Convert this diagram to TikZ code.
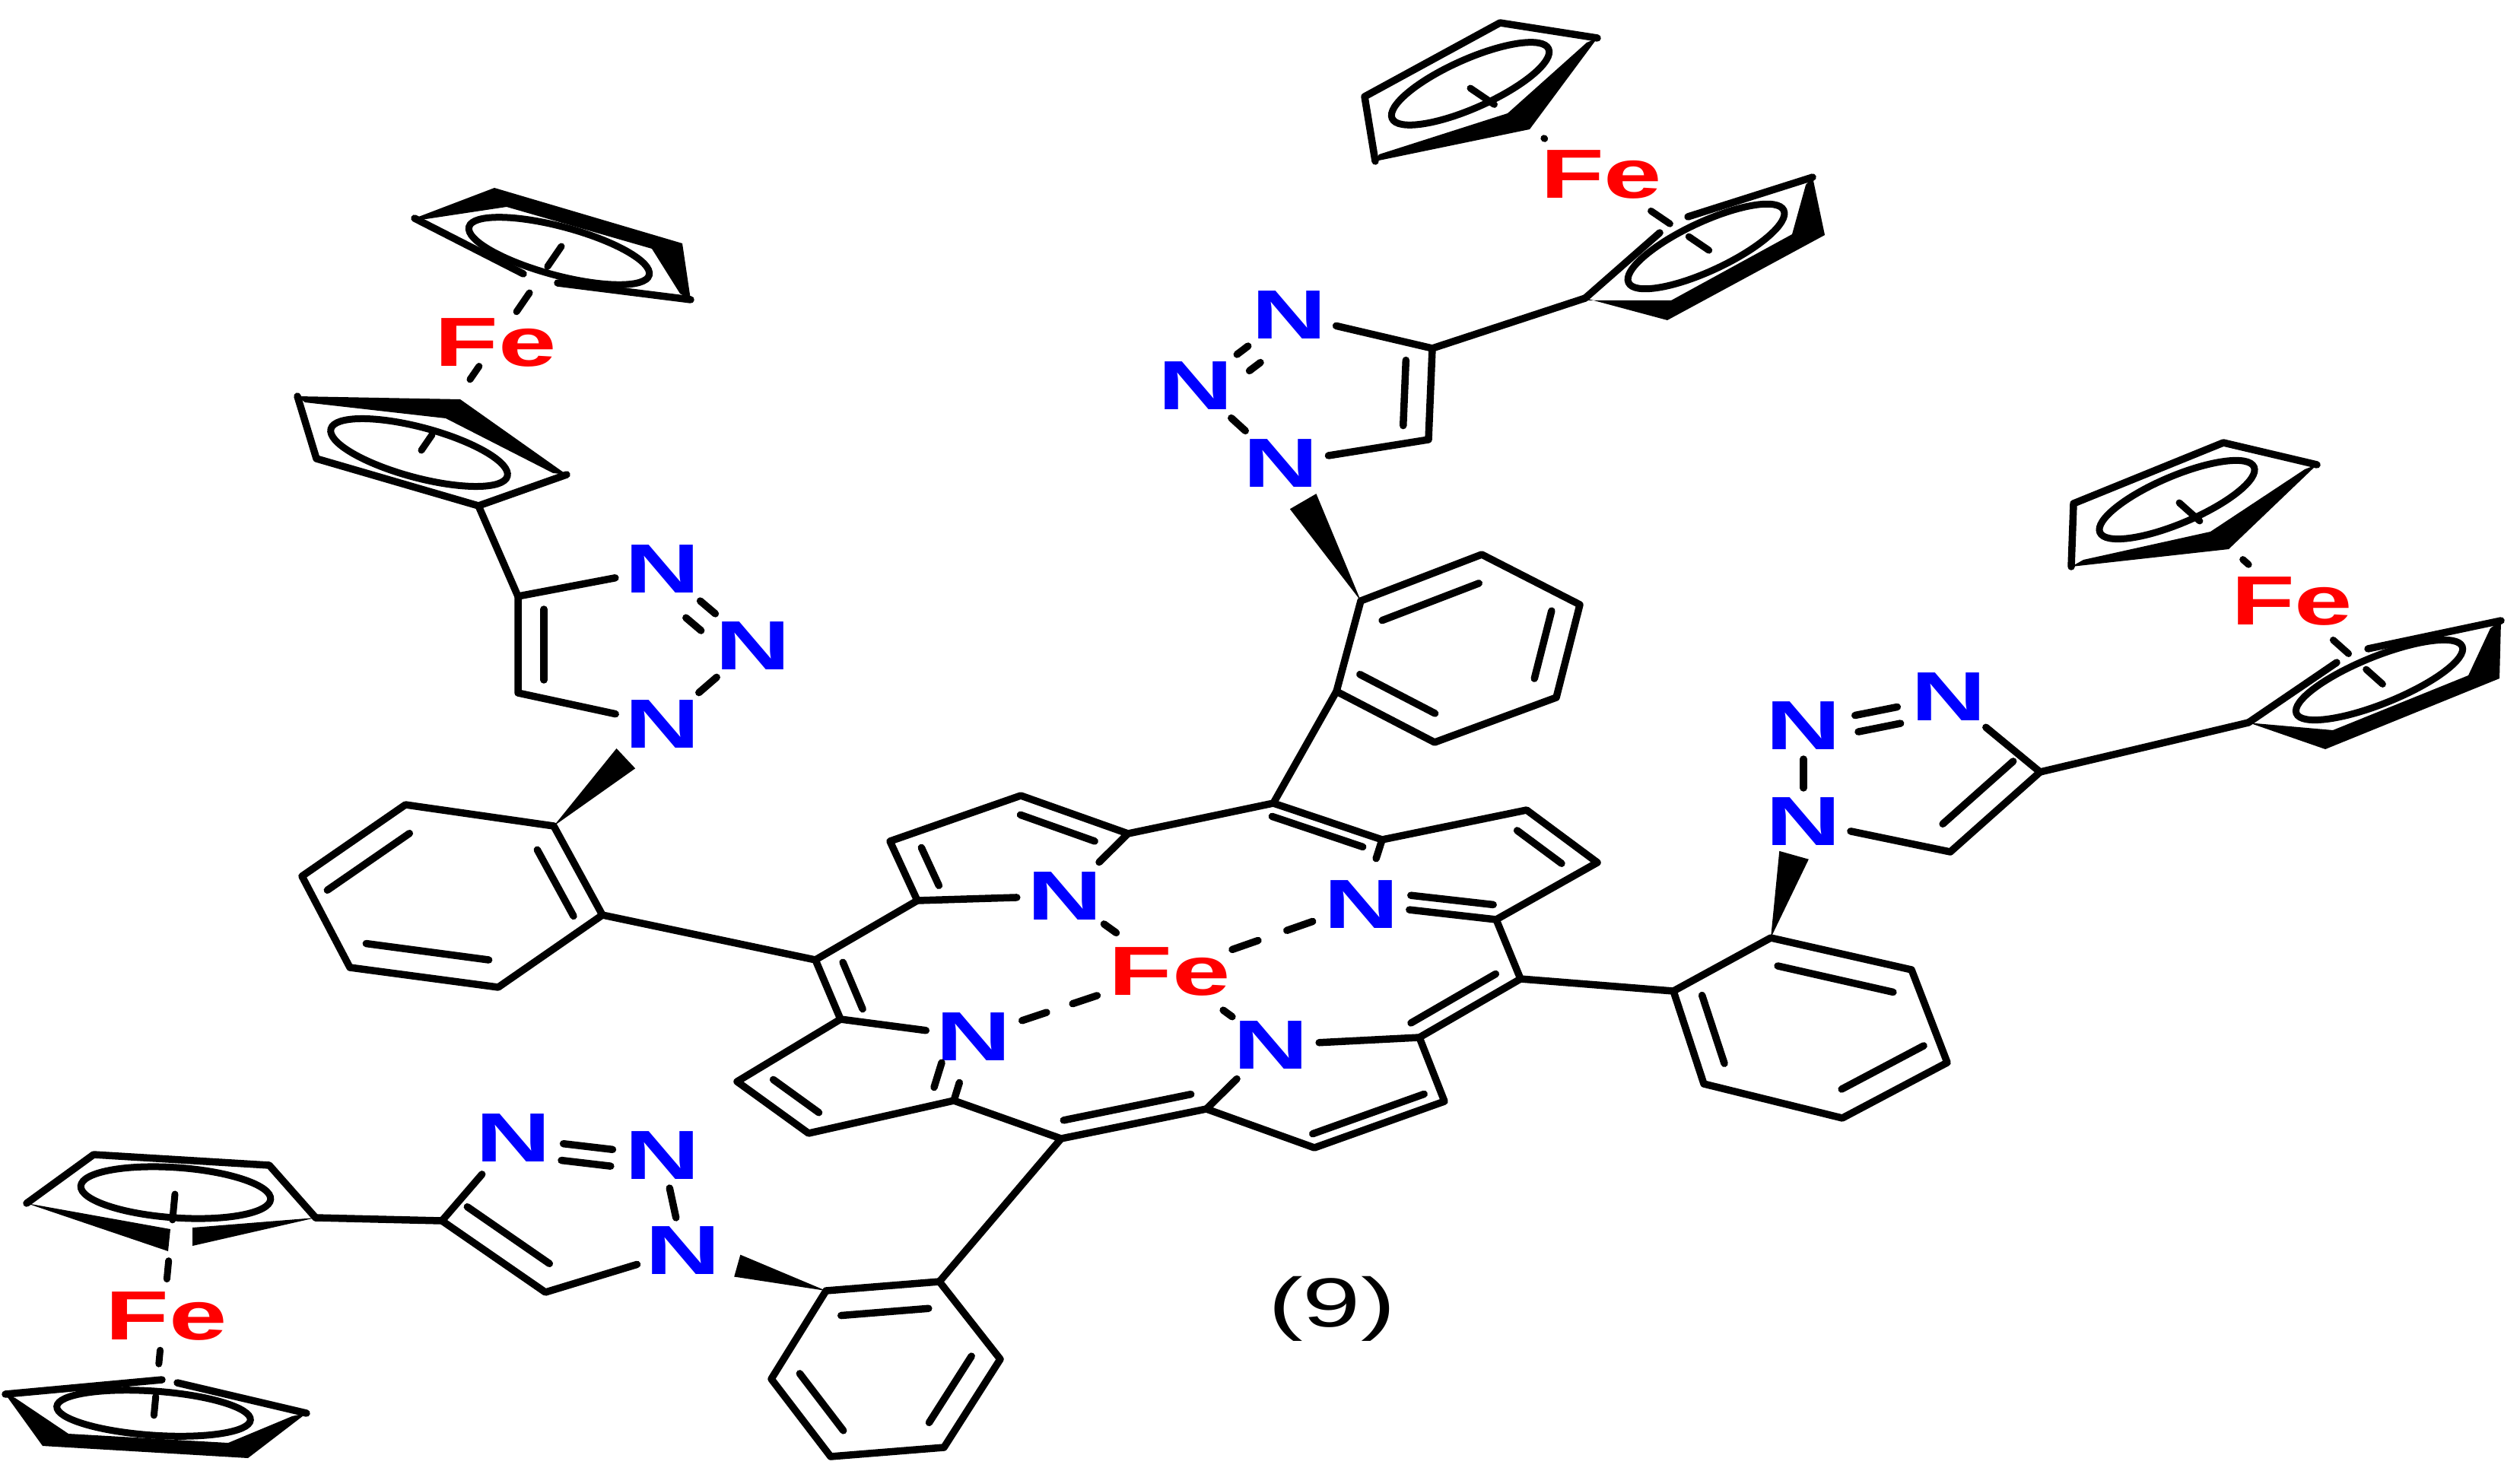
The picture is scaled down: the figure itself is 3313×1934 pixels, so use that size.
\documentclass[tikz,border=0pt]{standalone}
\usepackage{fontspec}
\usetikzlibrary{shapes.geometric,calc}
\newfontfamily\atomfont[FakeStretch=1.5]{Liberation Sans}
\definecolor{atomred}{RGB}{255,0,0}
\definecolor{atomblue}{RGB}{0,0,255}
% parallel stroke beside a bond: from, to, cut at from, cut at to, offset to the left
\newcommand{\offbond}[5]{\draw[bond] ($(#1)!#3!(#2)!#5!90:(#2)$) -- ($(#2)!#4!(#1)!#5!-90:(#1)$);}
\newcommand{\innerbond}[2]{\offbond{#1}{#2}{1.7mm}{1.7mm}{3.4mm}}
% solid wedge: tip, nitrogen, gap before the nitrogen, half width
\newcommand{\wedgebond}[4]{\fill (#1) -- ($(#2)!#3!(#1)!#4!90:(#1)$) -- ($(#2)!#3!(#1)!#4!-90:(#1)$) -- cycle;}
\begin{document}
\begin{tikzpicture}[x=0.01cm,y=-0.01cm]
      \tikzstyle{bond}=[line width=0.95mm,line cap=round,line join=round]
      \tikzstyle{gapbond}=[bond,shorten <=4.4mm,shorten >=4.4mm]
      \tikzstyle{hapto}=[line width=0.9mm,line cap=round]
      \tikzstyle{cpring}=[ellipse,draw,line width=0.9mm,inner sep=0pt]
      \tikzstyle{atomn}=[circle,inner sep=0pt,minimum size=1.25cm,text=atomblue,font=\atomfont\bfseries\fontsize{26}{26}\selectfont]
      \tikzstyle{atomfe}=[circle,inner sep=0pt,text=atomred,font=\atomfont\bfseries\fontsize{26}{26}\selectfont]
      \useasboundingbox (0,0) rectangle (3313,1934);

      % porphyrin
      \foreach \n/\x/\y in {a1/1206/1184,a2/1170/1106,a3/1342/1046,a4/1483/1096,m1/1674/1056,
        b1/1817/1104,b2/2007/1065,b3/2100/1134,b4/1967/1209,m2/1999/1287,
        c1/1866/1364,c2/1899/1448,c3/1728/1509,c4/1586/1458,m3/1395/1497,
        d1/1254/1447,d2/1063/1490,d3/969/1422,d4/1105/1340,m4/1072/1262}
        \coordinate (\n) at (\x,\y);
      \node[atomfe] (fe) at (1538,1277) {Fe};
      \node[atomn] (na) at (1400,1178) {N};
      \node[atomn] (nb) at (1790,1189) {N};
      \node[atomn] (nc) at (1671,1374) {N};
      \node[atomn] (nd) at (1280,1363) {N};
      \draw[bond] (a1) -- (a2) -- (a3) -- (a4) -- (m1) -- (b1) -- (b2) -- (b3) -- (b4) -- (m2)
        -- (c1) -- (c2) -- (c3) -- (c4) -- (m3) -- (d1) -- (d2) -- (d3) -- (d4) -- (m4) -- cycle;
      \draw[bond] (a1) -- (na);
      \draw[bond] (a4) -- (na);
      \draw[bond] (b1) -- (nb);
      \draw[bond] (b4) -- (nb);
      \draw[bond] (c1) -- (nc);
      \draw[bond] (c4) -- (nc);
      \draw[bond] (d4) -- (nd);
      \draw[bond] (d1) -- (nd);
      \offbond{a2}{a1}{2.5mm}{0.6mm}{3.4mm}
      \offbond{a4}{a3}{3.8mm}{0.8mm}{2.4mm}
      \offbond{b1}{m1}{2.1mm}{0.4mm}{1.7mm}
      \offbond{b3}{b2}{3.7mm}{0.6mm}{2.9mm}
      \offbond{nb}{b4}{6.3mm}{0.6mm}{1.9mm}
      \offbond{c1}{m2}{0mm}{2.5mm}{2.2mm}
      \offbond{c3}{c2}{0.4mm}{2.2mm}{1.8mm}
      \offbond{m3}{c4}{0.8mm}{1.6mm}{2.3mm}
      \offbond{d1}{nd}{0.9mm}{4.5mm}{3mm}
      \offbond{d3}{d2}{3.7mm}{0.5mm}{3mm}
      \offbond{m4}{d4}{1.7mm}{0.1mm}{3.2mm}
      \draw[bond,dash pattern=on 2.4mm off 9mm] (fe) -- (na);
      \draw[bond,dash pattern=on 3.6mm off 4mm on 3.6mm off 9mm] (fe) -- (nb);
      \draw[bond,dash pattern=on 2.4mm off 9mm] (fe) -- (nc);
      \draw[bond,shorten <=1.4mm,dash pattern=on 3.4mm off 3.6mm on 3.4mm off 9mm] (fe) -- (nd);

      % phenyl rings
      \foreach \n/\x/\y in {pa1/728/1086,pa2/792/1203,pa3/655/1298,pa4/460/1272,pa5/397/1152,pa6/533/1058,
        pb1/1789/790,pb2/1948/729,pb3/2077/795,pb4/2046/917,pb5/1886/976,pb6/1757/909,
        pc1/2328/1233,pc2/2513/1275,pc3/2560/1397,pc4/2422/1470,pc5/2240/1425,pc6/2200/1303,
        pd1/1086/1697,pd2/1235/1685,pd3/1315/1787,pd4/1241/1903,pd5/1092/1915,pd6/1014/1813}
        \coordinate (\n) at (\x,\y);
      \foreach \p in {pa,pb,pc,pd} {
        \draw[bond] (\p1) -- (\p2) -- (\p3) -- (\p4) -- (\p5) -- (\p6) -- cycle;
        \innerbond{\p2}{\p1}
        \innerbond{\p4}{\p3}
        \innerbond{\p6}{\p5}
      }
      \draw[bond] (pa2) -- (m4);
      \draw[bond] (pb6) -- (m1);
      \draw[bond] (pc6) -- (m2);
      \draw[bond] (pd2) -- (m3);

      % triazole, upper left
      \coordinate (ta4) at (681,784);
      \coordinate (ta5) at (681,911);
      \node[atomn] (ta3) at (871,748) {N};
      \node[atomn] (ta2) at (990,849) {N};
      \node[atomn] (ta1) at (871,952) {N};
      \draw[bond] (ta3) -- (ta4) -- (ta5) -- (ta1);
      \innerbond{ta4}{ta5}
      \offbond{ta3}{ta2}{6.5mm}{6.5mm}{-2.9mm}
      \offbond{ta3}{ta2}{6.5mm}{6.5mm}{0mm}
      \draw[bond] (ta2) -- (ta1);
      \wedgebond{pa1}{ta1}{6.6mm}{1.8mm}

      % triazole, top
      \coordinate (tb4) at (1883,458);
      \coordinate (tb5) at (1878,578);
      \node[atomn] (tb3) at (1695,414) {N};
      \node[atomn] (tb2) at (1572,507) {N};
      \node[atomn] (tb1) at (1684,609) {N};
      \draw[bond] (tb3) -- (tb4) -- (tb5) -- (tb1);
      \innerbond{tb5}{tb4}
      \offbond{tb2}{tb3}{6.8mm}{6.8mm}{0mm}
      \offbond{tb2}{tb3}{6.8mm}{6.8mm}{-2.7mm}
      \draw[bond] (tb2) -- (tb1);
      \wedgebond{pb1}{tb1}{5.8mm}{2mm}

      % triazole, right
      \coordinate (tc4) at (2682,1015);
      \coordinate (tc5) at (2564,1120);
      \node[atomn] (tc3) at (2562,916) {N};
      \node[atomn] (tc2) at (2371,954) {N};
      \node[atomn] (tc1) at (2371,1080) {N};
      \draw[bond] (tc3) -- (tc4) -- (tc5) -- (tc1);
      \innerbond{tc5}{tc4}
      \offbond{tc2}{tc3}{6.9mm}{6.9mm}{0mm}
      \offbond{tc2}{tc3}{6.9mm}{6.9mm}{-2.2mm}
      \draw[gapbond] (tc2.center) -- (tc1.center);
      \wedgebond{pc1}{tc1}{4.6mm}{2mm}

      % triazole, bottom
      \coordinate (td4) at (581,1605);
      \coordinate (td5) at (717,1699);
      \node[atomn] (td3) at (675,1496) {N};
      \node[atomn] (td2) at (871,1519) {N};
      \node[atomn] (td1) at (898,1644) {N};
      \draw[bond] (td3) -- (td4) -- (td5) -- (td1);
      \innerbond{td4}{td5}
      \offbond{td3}{td2}{6.6mm}{6.6mm}{0mm}
      \offbond{td3}{td2}{6.6mm}{6.6mm}{-2.2mm}
      \draw[gapbond] (td2.center) -- (td1.center);
      \wedgebond{pd1}{td1}{7.4mm}{1.5mm}

      % ferrocene, upper left
      \node[atomfe] (fea) at (652,450) {Fe};
      \node[cpring,minimum width=24.5mm,minimum height=6.4mm,rotate=-15] (ra1) at (735,330) {};
      \node[cpring,minimum width=24mm,minimum height=6.6mm,rotate=-15] (ra2) at (551,595) {};
      \coordinate (fac) at (629,665);
      \coordinate (fat) at (738,324);
      \coordinate (fab) at (554,592);
      \fill (545,287) -- (650,247) -- (897,320) -- (908,394) -- (894,386) -- (857,327) -- (666,272) -- (560,288) -- cycle;
      \draw[bond] (688,360) -- (545,287);
      \draw[bond] (733,372) -- (908,394);
      \fill (391,521) -- (605,525) -- (745,624) -- (727,622) -- (586,550) -- (401,529) -- cycle;
      \draw[bond] (391,521) -- (416,603) -- (fac) -- (745,624);
      \draw[hapto,dash pattern=on 3.2mm off 4.2mm on 3mm off 8.7mm on 2.1mm off 8.8mm on 2.5mm] (fat) -- (fab);
      \draw[bond] (fac) -- (ta4);

      % ferrocene, top
      \node[atomfe] (feb) at (2105,230) {Fe};
      \node[cpring,minimum width=22.5mm,minimum height=6.4mm,rotate=24] (rb1) at (1933,110) {};
      \node[cpring,minimum width=22.5mm,minimum height=6.4mm,rotate=25] (rb2) at (2243,324) {};
      \coordinate (fbc) at (2084,392);
      \coordinate (fbt) at (1933,116);
      \coordinate (fbb) at (2248,330);
      \fill (2100,50) -- (2011,170) -- (1808,212) -- (1813,203) -- (1982,149) -- (2086,56) -- cycle;
      \draw[bond] (1808,212) -- (1794,127) -- (1972,30) -- (2100,50);
      \fill (2383,233) -- (2399,309) -- (2192,421) -- (fbc) -- (2089,395) -- (2197,395) -- (2356,308) -- (2374,243) -- cycle;
      \draw[bond] (fbc) -- (2182,306);
      \draw[bond] (2219,285) -- (2383,233);
      \draw[hapto,dash pattern=on 3.8mm off 7.9mm on 0.1mm off 16.9mm on 3mm off 3mm on 3.2mm] (fbt) -- (fbb);
      \draw[bond] (fbc) -- (tb4);

      % ferrocene, right
      \node[atomfe] (fec) at (3013,790) {Fe};
      \node[cpring,minimum width=22mm,minimum height=6.2mm,rotate=23] (rc1) at (2862,657) {};
      \node[cpring,minimum width=23.5mm,minimum height=6.2mm,rotate=22] (rc2) at (3128,894) {};
      \coordinate (fcc) at (2956,950);
      \coordinate (fct) at (2865,661);
      \coordinate (fcb) at (3133,900);
      \fill (3046,611) -- (2930,722) -- (2723,745) -- (2739,736) -- (2906,699) -- (3030,617) -- cycle;
      \draw[bond] (2723,745) -- (2726,662) -- (2923,582) -- (3046,611);
      \fill (3288,816) -- (3286,892) -- (3057,985) -- (fcc) -- (2965,951) -- (3067,960) -- (3245,888) -- (3274,826) -- cycle;
      \draw[bond] (fcc) -- (3072,871);
      \draw[bond] (3113,853) -- (3288,816);
      \draw[hapto,dash pattern=on 3.6mm off 7.6mm on 1mm off 14.9mm on 2.7mm off 3.1mm on 2.9mm] (fct) -- (fcb);
      \draw[bond] (fcc) -- (tc4);

      % ferrocene, bottom
      \node[atomfe] (fed) at (219,1730) {Fe};
      \node[cpring,minimum width=25mm,minimum height=6.6mm,rotate=-4] (rd1) at (231,1568) {};
      \node[cpring,minimum width=25.5mm,minimum height=5.8mm,rotate=-4] (rd2) at (202,1858) {};
      \coordinate (fdc) at (415,1601);
      \coordinate (fdt) at (230,1570);
      \coordinate (fdb) at (202,1865);
      \draw[bond] (35,1582) -- (123,1518) -- (354,1532) -- (fdc);
      \fill (35,1582) -- (221,1645) -- (224,1616) -- cycle;
      \fill (fdc) -- (253,1638) -- (253,1614) -- cycle;
      \draw[bond] (213,1814) -- (7,1833);
      \draw[bond] (233,1818) -- (403,1858);
      \fill (7,1833) -- (56,1901) -- (326,1917) -- (403,1858) -- (384,1862) -- (300,1897) -- (90,1885) -- (20,1838) -- cycle;
      \draw[hapto,dash pattern=on 3.4mm off 5.4mm on 2.4mm off 9.4mm on 1.8mm off 4.3mm on 2.5mm] (fdt) -- (fdb);
      \draw[bond] (fdc) -- (td4);

      \node[inner sep=0pt,font=\atomfont\fontsize{26}{26}\selectfont] (compound) at (1751,1721) {(9)};
\end{tikzpicture}
\end{document}
